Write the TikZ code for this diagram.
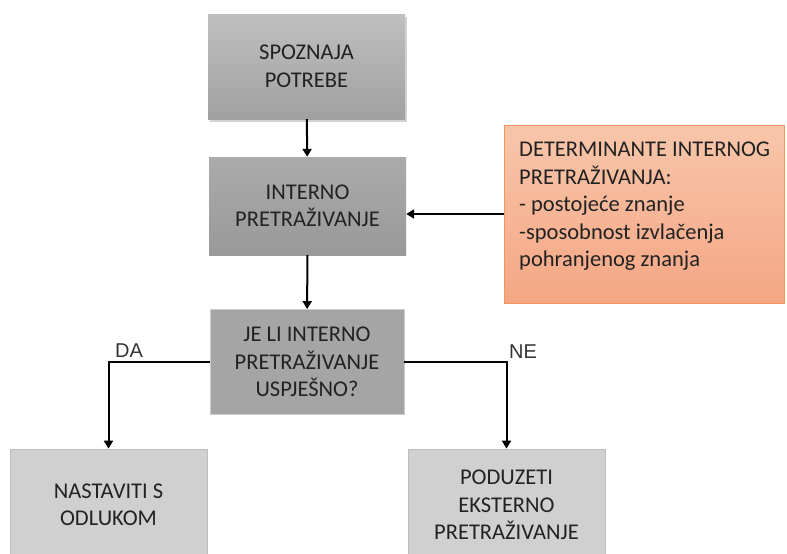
\documentclass[tikz,border=0pt]{standalone}
\usepackage{fontspec}
\setmainfont{Carlito}
\newfontfamily\arialfont{Liberation Sans}
\usetikzlibrary{arrows.meta,shadows,positioning}
\definecolor{boxA}{HTML}{A5A5A5}
\definecolor{boxL}{HTML}{D0D0D0}
\definecolor{boxLb}{HTML}{BDBDBD}
\definecolor{orTop}{HTML}{F8C6AA}
\definecolor{orBot}{HTML}{F4A684}
\definecolor{orBd}{HTML}{F0955E}
\definecolor{ink}{HTML}{222222}
\begin{document}
\begin{tikzpicture}[x=1pt,y=-1pt,
  txt/.style={font=\fontsize{22.5}{27.5}\selectfont, text=ink, align=center},
  gbox/.style={txt, rectangle, inner sep=0pt},
  arr/.style={line width=2pt, -{Triangle[width=9pt,length=8pt]}},
  lab/.style={font=\arialfont\fontsize{20}{22}\selectfont, text=black!80, inner sep=0pt}]
\useasboundingbox (0,0) rectangle (787,554);
\node[gbox, minimum width=197pt, minimum height=105pt, top color=black!25, bottom color=black!37,
  drop shadow={opacity=0.35, shadow xshift=2pt, shadow yshift=-3pt}] (top) at (306.5,66.5) {SPOZNAJA\\POTREBE};
\node[gbox, minimum width=197pt, minimum height=98pt, top color=black!33, bottom color=black!40] (intern) at (307.5,206) {INTERNO\\PRETRAŽIVANJE};
\node[gbox, minimum width=194pt, minimum height=105pt, fill=boxA, draw=black!20, line width=0.8pt] (dec) at (307,362) {JE LI INTERNO\\PRETRAŽIVANJE\\USPJEŠNO?};
\node[rectangle, minimum width=280pt, minimum height=178pt, top color=orTop, bottom color=orBot, draw=orBd, line width=1pt] (orange) at (644,214) {};
\node[txt, align=left, anchor=north west, inner sep=0pt] (otext) at (519,142) {DETERMINANTE INTERNOG\\PRETRAŽIVANJA:\\- postojeće znanje\\-sposobnost izvlačenja\\pohranjenog znanja};
\node[gbox, minimum width=197pt, minimum height=112pt, fill=boxL, draw=boxLb, line width=0.8pt] (left) at (108.5,505) {NASTAVITI S\\ODLUKOM};
\node[gbox, minimum width=197pt, minimum height=112pt, fill=boxL, draw=boxLb, line width=0.8pt] (right) at (506.5,505) {PODUZETI\\EKSTERNO\\PRETRAŽIVANJE};
\draw[arr] (top) -- (intern);
\draw[arr] (intern) -- (dec);
\draw[arr] (orange.west) -- (orange.west -| intern.east);
\draw[arr] (dec.west) -| (left.north);
\draw[arr] (dec.east) -| (right.north);
\node[lab] (da) at (129,351) {DA};
\node[lab] (ne) at (523,352) {NE};
\end{tikzpicture}
\end{document}
